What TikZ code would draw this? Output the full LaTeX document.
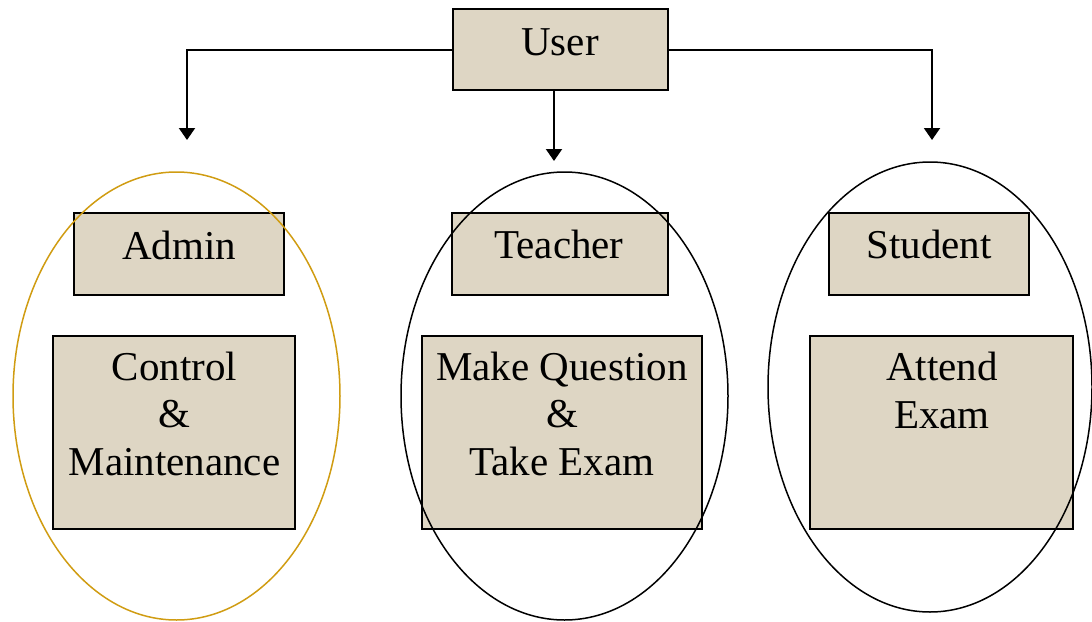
\documentclass[tikz,border=0pt]{standalone}
\usepackage{fontspec}
\setmainfont{Liberation Serif}
\usetikzlibrary{arrows.meta}
\definecolor{boxfill}{RGB}{222,214,196}
\definecolor{goldline}{RGB}{208,156,18}
\begin{document}
\begin{tikzpicture}[x=0.5pt,y=-0.5pt,
  box/.style={draw=black,line width=1pt,fill=boxfill,rectangle,inner sep=0pt},
  txt/.style={anchor=base,inner sep=0pt,font=\fontsize{20.5pt}{23.5pt}\selectfont},
  conn/.style={draw=black,line width=1pt,-{Triangle[width=8pt,length=6pt]}},
  ring/.style={draw=black,line width=0.75pt}]
\useasboundingbox (0,0) rectangle (1092,621);
% boxes
\node[box,minimum width=107.5pt,minimum height=40.5pt] (user) at (560.5,49.5) {};
\node[box,minimum width=105pt,minimum height=41pt] (admin) at (179,254) {};
\node[box,minimum width=121pt,minimum height=96.5pt] (control) at (174,432.5) {};
\node[box,minimum width=108pt,minimum height=41pt] (teacher) at (560,254) {};
\node[box,minimum width=140pt,minimum height=96.5pt] (make) at (562,432.5) {};
\node[box,minimum width=100pt,minimum height=41pt] (student) at (929,254) {};
\node[box,minimum width=131.5pt,minimum height=96.5pt] (attend) at (941.5,432.5) {};
% texts
\node[txt] (tuser) at (560,55) {User};
\node[txt] (tadmin) at (179,259) {Admin};
\node[txt] (tc1) at (174.5,380) {Control};
\node[txt] (tc2) at (174.5,427) {\&};
\node[txt] (tc3) at (174.5,475) {Maintenance};
\node[txt] (tteacher) at (559,258) {Teacher};
\node[txt] (tm1) at (562,380) {Make Question};
\node[txt] (tm2) at (562,427) {\&};
\node[txt] (tm3) at (562,475) {Take Exam};
\node[txt] (tstudent) at (929,258) {Student};
\node[txt] (ta1) at (942,380) {Attend};
\node[txt] (ta2) at (942,428) {Exam};
% ellipses
\draw[ring,draw=goldline] (176.5,396) ellipse [x radius=81.75pt,y radius=112pt];
\draw[ring] (564.5,396) ellipse [x radius=81.75pt,y radius=112pt];
\draw[ring] (930,387) ellipse [x radius=81pt,y radius=112.5pt];
% connectors
\coordinate (aL) at (187,140);
\coordinate (aM) at (554,161);
\coordinate (aR) at (932,140);
\draw[conn] (user.west) -| (aL);
\draw[conn] (user.east) -| (aR);
\draw[conn] (aM |- user.south) -- (aM);
\end{tikzpicture}
\end{document}
